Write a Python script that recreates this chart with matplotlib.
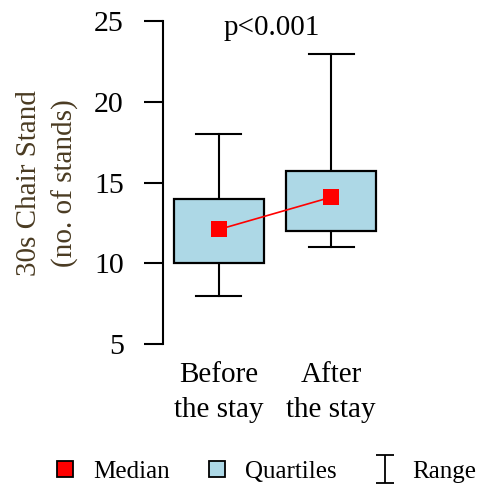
import matplotlib
matplotlib.use("Agg")
import matplotlib.pyplot as plt
from matplotlib.lines import Line2D
from matplotlib.path import Path

plt.rcParams['font.family'] = ['Liberation Serif', 'DejaVu Serif']

# Data
categories = ["Before\nthe stay", "After\nthe stay"]
medians = [12.1, 14.1]
q1 = [10.0, 12.0]
q3 = [14.0, 15.75]
mins = [8.0, 11.0]
maxs = [18.0, 23.0]
p_text = "p<0.001"
y_label = "30s Chair Stand\n(no. of stands)"
yticks = [5, 10, 15, 20, 25]

fig = plt.figure(figsize=(4.83, 4.93), dpi=100)
ax = fig.add_axes([0.3369, 0.3022, 0.4650, 0.6546])

pos = [1, 2]
box_w = 0.8
cap_w = 0.4
for x, lo, hi, a, b in zip(pos, q1, q3, mins, maxs):
    ax.plot([x, x], [hi, b], color='black', lw=1.5, zorder=1)
    ax.plot([x, x], [a, lo], color='black', lw=1.5, zorder=1)
    ax.plot([x - cap_w / 2, x + cap_w / 2], [b, b], color='black', lw=1.5, zorder=1)
    ax.plot([x - cap_w / 2, x + cap_w / 2], [a, a], color='black', lw=1.5, zorder=1)
    ax.bar(x, hi - lo, bottom=lo, width=box_w, color='#add8e6',
           edgecolor='black', linewidth=1.6, zorder=2)

ax.plot(pos, medians, color='red', lw=1.2, zorder=3)
ax.plot(pos, medians, 's', color='red', markersize=12, markeredgewidth=0, zorder=4)

ax.text(1.47, 24.15, p_text, ha='center', va='baseline', fontsize=21)

ax.set_xlim(0.5, 2.5)
ax.set_ylim(5, 25)
ax.set_yticks(yticks)
ax.set_xticks(pos)
ax.set_xticklabels(categories, fontsize=21, linespacing=1.45)
ax.tick_params(axis='x', length=0, pad=13)
ax.tick_params(axis='y', length=14, width=1.5, pad=14, labelsize=21.5)
for s in ['top', 'right', 'bottom']:
    ax.spines[s].set_visible(False)
ax.spines['left'].set_linewidth(1.5)
ax.spines['left'].set_bounds(5, 25)

fig.text(0.098, 0.6295, y_label, rotation=90, ha='center', va='center',
         fontsize=21, color='#4a3b22', multialignment='center', linespacing=1.45)

range_marker = Path([(-0.35, 0.5), (0.35, 0.5), (0, 0.5), (0, -0.5), (-0.35, -0.5), (0.35, -0.5)],
                    [Path.MOVETO, Path.LINETO, Path.MOVETO, Path.LINETO, Path.MOVETO, Path.LINETO])
handles = [
    Line2D([], [], marker='s', linestyle='none', markerfacecolor='red',
           markeredgecolor='black', markeredgewidth=1.3, markersize=12),
    Line2D([], [], marker='s', linestyle='none', markerfacecolor='#add8e6',
           markeredgecolor='black', markeredgewidth=1.3, markersize=12),
    Line2D([], [], marker=range_marker, linestyle='none', color='black',
           markeredgewidth=1.3, markersize=19.5),
]
fig.legend(handles, ["Median", "Quartiles", "Range"], loc='center',
           bbox_to_anchor=(0.548, 0.0426), ncol=3, frameon=False, fontsize=18,
           handlelength=1.0, handletextpad=0.62, columnspacing=1.4)

fig.savefig("out.png", dpi=100)
